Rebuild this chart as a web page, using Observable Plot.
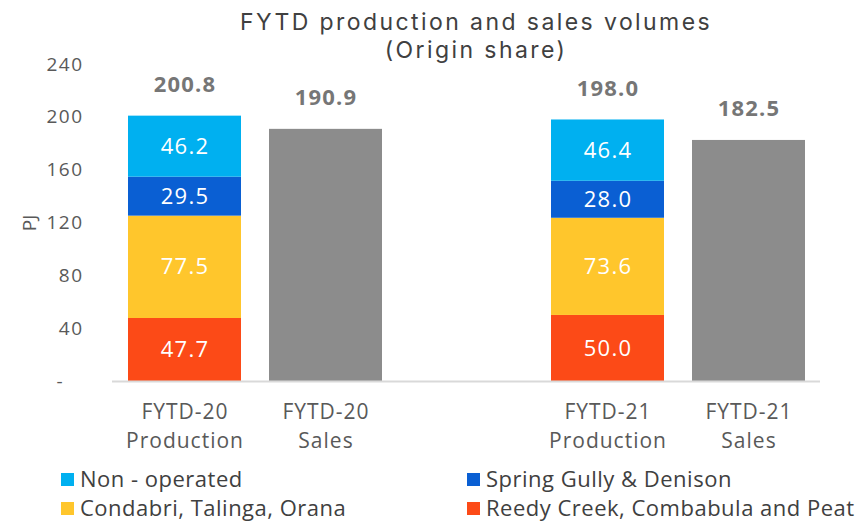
<!DOCTYPE html>
<html><head><meta charset="utf-8">
<script src="https://cdn.jsdelivr.net/npm/d3@7"></script>
<script src="https://cdn.jsdelivr.net/npm/@observablehq/plot@0.6"></script>
<style>
body{margin:0;background:#fff;}
#wrap{position:relative;width:862px;height:521px;font-family:"Open Sans",sans-serif;}
.ttl{position:absolute;left:0;width:952px;text-align:center;font-family:Inter,sans-serif;font-size:23px;line-height:28px;color:#404040;white-space:nowrap;}
.leg{position:absolute;font-size:22px;color:#404040;white-space:nowrap;line-height:24px;padding-left:19px;letter-spacing:0.5px;}
.leg span{position:absolute;left:0;top:7px;width:13px;height:13px;}
</style></head>
<body><div id="wrap"><div class="ttl" id="t1" style="top:8px">FYTD production and sales volumes</div><div class="ttl" id="t2" style="top:36px">(Origin share)</div></div>
<script>
const categories = ["FYTD-20 Production", "FYTD-20 Sales", "FYTD-21 Production", "FYTD-21 Sales"];
const gapSlot = "gap";
const tickLabels = ["FYTD-20\nProduction", "FYTD-20\nSales", "FYTD-21\nProduction", "FYTD-21\nSales"];
const segments = ["Reedy Creek, Combabula and Peat", "Condabri, Talinga, Orana", "Spring Gully & Denison", "Non - operated"];
const segColors = ["#fc4a17", "#ffc62c", "#0a5fd3", "#00b0f0"];
const prod20 = [47.7, 77.5, 29.5, 46.2];
const prod21 = [50.0, 73.6, 28.0, 46.4];
const prodTotals = [200.8, 198.0];
const salesValues = [190.9, 182.5];
const yTicks = [0, 40, 80, 120, 160, 200, 240];
const legendOrder = ["Non - operated", "Spring Gully & Denison", "Condabri, Talinga, Orana", "Reedy Creek, Combabula and Peat"];

const stackRows = segments.flatMap((s, i) => [
  {cat: categories[0], seg: s, value: prod20[i]},
  {cat: categories[2], seg: s, value: prod21[i]}
]);
const salesRows = [{cat: categories[1], value: salesValues[0]}, {cat: categories[3], value: salesValues[1]}];
const totalRows = [
  {cat: categories[0], value: prodTotals[0]}, {cat: categories[1], value: salesValues[0]},
  {cat: categories[2], value: prodTotals[1]}, {cat: categories[3], value: salesValues[1]}
];
const labelOf = new Map(categories.map((c, i) => [c, tickLabels[i]]));
const font = "'Open Sans', sans-serif";

const chart = Plot.plot({
  width: 862, height: 521,
  marginTop: 64, marginBottom: 140, marginLeft: 112, marginRight: 42,
  style: {fontFamily: font, fontSize: "19px", color: "#595959", background: "transparent"},
  x: {type: "band", domain: [categories[0], categories[1], gapSlot, categories[2], categories[3]], paddingInner: 0.2, paddingOuter: 0.1},
  y: {domain: [0, 240]},
  color: {domain: segments, range: segColors},
  marks: [
    Plot.barY(stackRows, {x: "cat", y: "value", fill: "seg"}),
    Plot.barY(salesRows, {x: "cat", y: "value", fill: "#8c8c8c"}),
    Plot.text(stackRows, Plot.stackY({x: "cat", y: "value", text: d => d.value.toFixed(1), fill: "white", fontSize: 22})),
    Plot.text(totalRows, {x: "cat", y: "value", text: d => d.value.toFixed(1), dy: -31, fill: "#767676", fontWeight: "bold", fontSize: 22}),
    Plot.ruleY([0], {stroke: "#d9d9d9", strokeWidth: 2}),
    Plot.axisY({ticks: yTicks, tickSize: 0, tickPadding: 29, fontSize: 19, tickFormat: d => d === 0 ? "-\u00a0\u00a0\u00a0" : String(d),
      label: "PJ", labelAnchor: "center", labelArrow: "none", labelOffset: 90}),
    Plot.axisX({tickSize: 0, tickPadding: 17, fontSize: 21, lineHeight: 1.38, tickFormat: d => labelOf.get(d) ?? "", label: null})
  ]
});
chart.querySelectorAll("text").forEach(t => {
  if (/^[\d.]+$/.test(t.textContent)) t.style.letterSpacing = "1.2px";
});
chart.querySelectorAll('[aria-label="y-axis tick label"] text').forEach(t => t.style.letterSpacing = "1.5px");
chart.querySelectorAll('[aria-label="x-axis tick label"] text').forEach(t => t.style.letterSpacing = "1px");
const wrap = document.getElementById("wrap");
wrap.insertBefore(chart, wrap.firstChild);
chart.style.position = "absolute"; chart.style.left = "0"; chart.style.top = "0";

// widen the title letters so the first line spans like the reference
const ctx = document.createElement("canvas").getContext("2d");
ctx.font = "23px Inter";
const t1 = document.getElementById("t1").textContent;
const ls = Math.max(0, (472 - ctx.measureText(t1).width) / t1.length);
document.querySelectorAll(".ttl").forEach(e => e.style.letterSpacing = ls.toFixed(2) + "px");

const pos = [[61, 466], [467, 466], [61, 495], [467, 495]];
legendOrder.forEach((s, i) => {
  const d = document.createElement("div");
  d.className = "leg";
  d.style.left = pos[i][0] + "px"; d.style.top = pos[i][1] + "px";
  const sw = document.createElement("span");
  sw.style.background = segColors[segments.indexOf(s)];
  d.appendChild(sw);
  d.appendChild(document.createTextNode(s));
  wrap.appendChild(d);
});
</script></body></html>
